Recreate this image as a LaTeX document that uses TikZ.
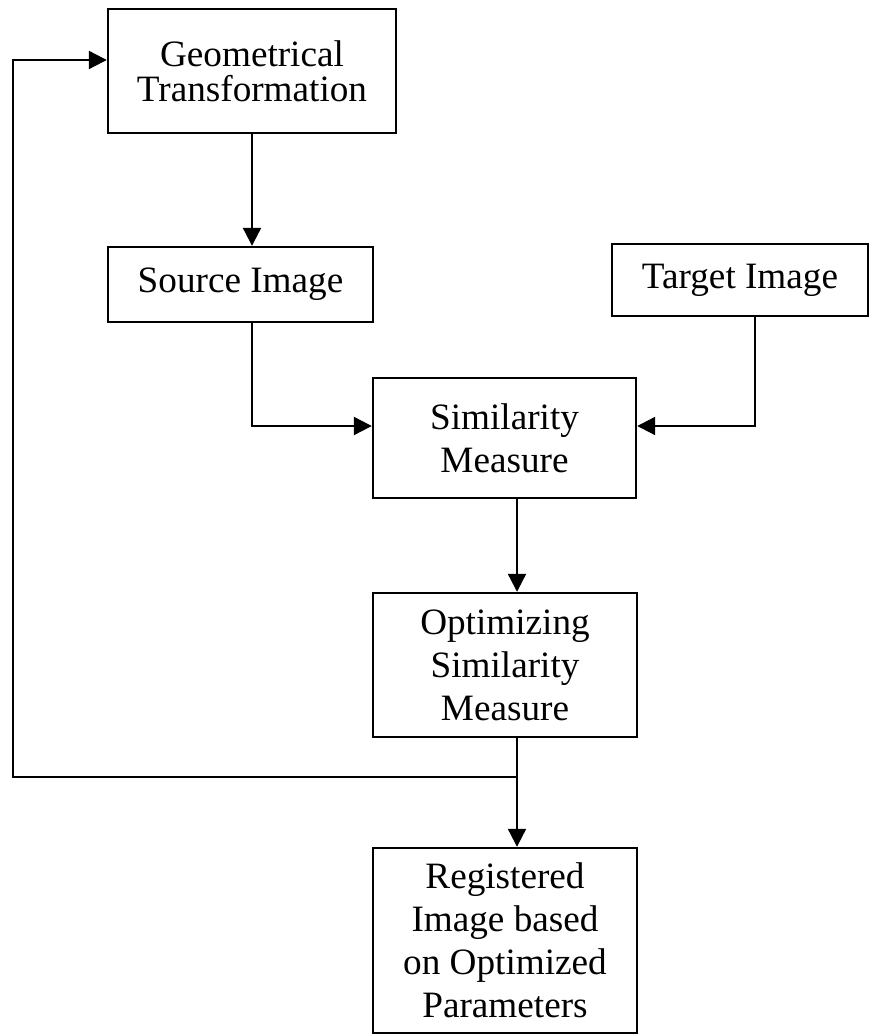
\documentclass[tikz,border=0pt]{standalone}
\usepackage{fontspec}
\setmainfont{Liberation Serif}
\usetikzlibrary{arrows.meta}
\usetikzlibrary{calc}
\tikzset{>=latex}

\begin{document}
\begin{tikzpicture}[
        x=0.5pt, y=-0.5pt,
        block/.style={draw, line width=1.2pt, align=center, inner sep=0pt, font=\fontsize{18.6}{21.5}\selectfont},
        flow/.style={line width=1.1pt, -{Triangle[length=9pt, width=9pt]}}
    ]

    %=== Frame of the picture ===%
    \useasboundingbox (0,0) rectangle (870,1036);

    %=== Blocks ===%
    \node[block, minimum width=144pt, minimum height=62pt] (geom) at (252,71) {Geometrical\\[-4pt]Transformation};
    \node[block, minimum width=132.5pt, minimum height=37.5pt] (source) at (240.5,284.5) {Source Image};
    \node[block, minimum width=128pt, minimum height=36pt] (target) at (740,280) {Target Image};
    \node[block, minimum width=131.5pt, minimum height=60pt] (sim) at (504.5,438) {Similarity\\Measure};
    \node[block, minimum width=132pt, minimum height=72pt] (opt) at (505,665) {Optimizing\\Similarity\\Measure};
    \node[block, minimum width=132pt, minimum height=92.5pt] (reg) at (505,940.5) {Registered\\Image based\\on Optimized\\Parameters};

    %=== Helper points ===%
    \coordinate (mid) at (517,0);
    \coordinate (split) at (517,777);
    \coordinate (back) at (13,777);

    %=== Connectors ===%
    \draw[flow] (geom.south) -- (geom.south |- source.north);
    \draw[flow] (geom.south |- source.south) |- ([yshift=6pt]sim.west);
    \draw[flow] ([xshift=7.5pt]target.south) |- ([yshift=6pt]sim.east);
    \draw[flow] (sim.south -| mid) -- (opt.north -| mid);
    \draw[flow] (opt.south -| mid) -- (reg.north -| mid);

    % feedback loop
    \draw[flow] (split) -- (back) |- ([yshift=5.5pt]geom.west);

\end{tikzpicture}
\end{document}
